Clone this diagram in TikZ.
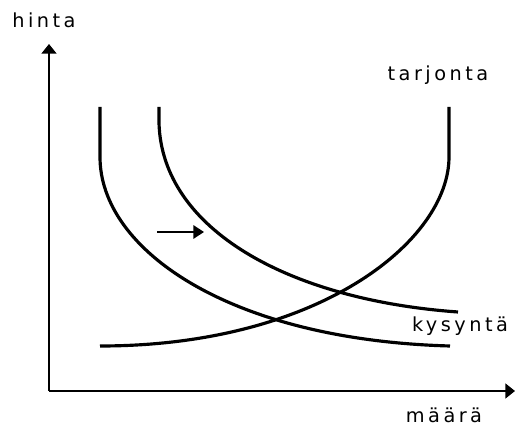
\documentclass[tikz,border=0pt]{standalone}
\usepackage{fontspec}
\usepackage{tikz}
\usetikzlibrary{arrows.meta}
\newfontfamily\lblfont[LetterSpace=18]{DejaVu Sans}
\tikzset{
  lab/.style={font=\lblfont\fontsize{11}{13}\selectfont,inner sep=0pt,anchor=base},
  axis/.style={line width=1.1pt,-{Triangle[length=5.5pt,width=8.5pt]}},
  curve/.style={line width=1.8pt,line join=round},
  shiftarrow/.style={line width=1.3pt,-{Triangle[length=6pt,width=7.5pt]}},
}
\begin{document}
\begin{tikzpicture}[x=0.02cm,y=-0.02cm]
  \useasboundingbox (0,0) rectangle (515,429);
  \coordinate (origin) at (49,391);
  \coordinate (ytop) at (49,44);
  \coordinate (xend) at (515,391);
  \draw[axis] (origin) -- (ytop);
  \draw[axis] (origin) -- (xend);
  \node[lab] (hinta) at (44,28) {hinta};
  \node[lab] (maara) at (444,423) {määrä};
  % kysynta 1
  \coordinate (d1top) at (100,107);
  \coordinate (d1bend) at (100,157);
  \coordinate (d1end) at (450,346);
  \draw[curve] (d1top) -- (d1bend) .. controls (100,250) and (230,340) .. (d1end);
  % kysynta 2
  \coordinate (d2top) at (159,107);
  \coordinate (d2bend) at (159,123);
  \coordinate (d2end) at (458,312);
  \draw[curve] (d2top) -- (d2bend) .. controls (162,230) and (290,300) .. (d2end);
  % tarjonta
  \coordinate (sstart) at (100,346);
  \coordinate (sbend) at (449,157);
  \coordinate (stop) at (449,107);
  \draw[curve] (sstart) .. controls (320,346) and (449,240) .. (sbend) -- (stop);
  \node[lab] (tarjonta) at (438,81) {tarjonta};
  \node[lab] (kysynta) at (460,332) {kysyntä};
  \coordinate (shiftA) at (157,232);
  \coordinate (shiftB) at (204,232);
  \draw[shiftarrow] (shiftA) -- (shiftB);
\end{tikzpicture}
\end{document}
